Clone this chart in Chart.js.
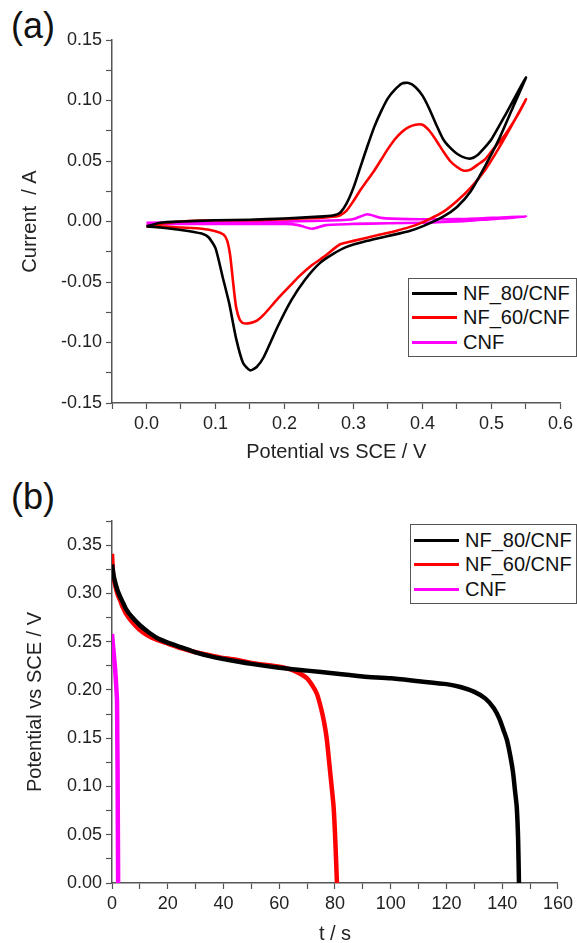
<!DOCTYPE html>
<html>
<head>
<meta charset="utf-8">
<script src="https://cdn.jsdelivr.net/npm/chart.js@4.4.1/dist/chart.umd.min.js"></script>
<style>
html, body { margin: 0; padding: 0; background: #fff; overflow: hidden; width: 577px; height: 943px; }
.panel { position: absolute; left: 0; width: 577px; }
#panelA { top: 0; height: 470px; }
#panelB { top: 470px; height: 480px; }
.tag { position: absolute; left: 11px; font: 36px "Liberation Sans", Arial, sans-serif; line-height: 36px; color: #111; }
.legend { position: absolute; border: 1px solid #555; background: #fff; box-sizing: border-box;
  font: 20px "Liberation Sans", Arial, sans-serif; color: #111; padding-left: 3px; }
.legend .row { display: flex; align-items: center; height: 24.5px; white-space: nowrap; }
.legend .swatch { width: 45px; height: 3px; margin-right: 6px; }
</style>
</head>
<body>
<div class="tag" style="top:8px">(a)</div>
<div class="tag" style="top:479px">(b)</div>
<div class="panel" id="panelA"><canvas id="cv" width="577" height="470"></canvas></div>
<div class="panel" id="panelB"><canvas id="gcd" width="577" height="480"></canvas></div>
<div class="legend" id="legA" style="left:408px; top:278px; width:169px; height:79px; padding-top:2px"></div>
<div class="legend" id="legB" style="left:410px; top:524px; width:167px; height:80px; padding-top:3px"></div>
<script>
// (a) cyclic voltammetry: [potential V, current A], forward scan then reverse scan
const cvNF80 = [
  [0.00, -0.004], [0.02, -0.001], [0.05, 0.000], [0.10, 0.001], [0.15, 0.0015], [0.20, 0.0025],
  [0.25, 0.004], [0.27, 0.005], [0.28, 0.007], [0.29, 0.015], [0.30, 0.028], [0.31, 0.045],
  [0.32, 0.062], [0.33, 0.078], [0.34, 0.091], [0.35, 0.102], [0.36, 0.109], [0.37, 0.114],
  [0.38, 0.1145], [0.39, 0.111], [0.40, 0.104], [0.41, 0.093], [0.42, 0.080], [0.43, 0.068],
  [0.44, 0.061], [0.45, 0.056], [0.46, 0.053], [0.47, 0.052], [0.48, 0.055], [0.49, 0.061],
  [0.50, 0.068], [0.52, 0.088], [0.54, 0.109], [0.55, 0.119],
  [0.53, 0.093], [0.51, 0.067], [0.49, 0.045], [0.47, 0.025], [0.45, 0.012], [0.43, 0.004],
  [0.40, -0.004], [0.38, -0.008], [0.35, -0.012], [0.32, -0.016], [0.29, -0.021], [0.27, -0.027],
  [0.25, -0.035], [0.23, -0.048], [0.21, -0.065], [0.19, -0.087], [0.17, -0.112], [0.16, -0.120],
  [0.15, -0.123], [0.14, -0.117], [0.13, -0.097], [0.12, -0.068], [0.11, -0.045], [0.10, -0.022],
  [0.09, -0.013], [0.08, -0.010], [0.05, -0.007], [0.02, -0.005], [0.00, -0.004]
];
const cvNF60 = [
  [0.00, -0.004], [0.02, -0.002], [0.05, 0.000], [0.10, 0.001], [0.15, 0.001], [0.20, 0.002],
  [0.25, 0.003], [0.27, 0.004], [0.28, 0.005], [0.29, 0.009], [0.30, 0.017], [0.31, 0.026],
  [0.32, 0.034], [0.33, 0.042], [0.34, 0.051], [0.35, 0.060], [0.36, 0.068], [0.37, 0.074],
  [0.38, 0.078], [0.39, 0.080], [0.40, 0.080], [0.41, 0.075], [0.42, 0.067], [0.43, 0.058],
  [0.44, 0.050], [0.45, 0.045], [0.46, 0.042], [0.47, 0.043], [0.48, 0.047], [0.49, 0.051],
  [0.50, 0.058], [0.52, 0.072], [0.54, 0.090], [0.55, 0.101],
  [0.53, 0.080], [0.51, 0.060], [0.49, 0.042], [0.47, 0.028], [0.45, 0.017], [0.43, 0.008],
  [0.41, 0.002], [0.39, -0.003], [0.36, -0.008], [0.33, -0.012], [0.30, -0.016], [0.28, -0.019],
  [0.26, -0.028], [0.24, -0.036], [0.22, -0.046], [0.21, -0.052], [0.19, -0.064], [0.17, -0.077],
  [0.16, -0.082], [0.15, -0.084], [0.14, -0.084], [0.135, -0.081], [0.13, -0.071], [0.127, -0.058],
  [0.124, -0.042], [0.121, -0.027], [0.117, -0.016], [0.112, -0.011], [0.10, -0.008], [0.08, -0.006],
  [0.05, -0.005], [0.02, -0.004], [0.00, -0.004]
];
const cvCNF = [
  [0.00, -0.001], [0.10, -0.0005], [0.20, 0.000], [0.28, 0.001], [0.30, 0.002], [0.32, 0.006],
  [0.34, 0.003], [0.38, 0.002], [0.45, 0.002], [0.50, 0.003], [0.55, 0.004],
  [0.50, 0.002], [0.45, 0.000], [0.40, -0.001], [0.35, -0.0015], [0.30, -0.002], [0.26, -0.003],
  [0.24, -0.006], [0.22, -0.003], [0.20, -0.002], [0.10, -0.002], [0.00, -0.002]
];

// (b) galvanostatic discharge: [time s, potential V]
const gcdNF80 = [
  [0, 0.330], [0.5, 0.320], [1, 0.313], [2, 0.303], [3, 0.296], [4, 0.290], [5, 0.284], [7, 0.276],
  [10, 0.267], [13, 0.260], [16, 0.254], [20, 0.249], [25, 0.244], [30, 0.239], [35, 0.235],
  [40, 0.232], [50, 0.227], [60, 0.223], [70, 0.220], [80, 0.217], [90, 0.214], [100, 0.212],
  [110, 0.209], [120, 0.206], [125, 0.203], [130, 0.198], [134, 0.191], [137, 0.181], [139, 0.170],
  [140.5, 0.158], [141.7, 0.148], [143, 0.130], [143.9, 0.114], [144.6, 0.095], [145.2, 0.079],
  [145.7, 0.045], [146, 0]
];
const gcdNF60 = [
  [0, 0.341], [0.4, 0.320], [1, 0.310], [2, 0.299], [3, 0.292], [4, 0.285], [5, 0.279], [7, 0.271],
  [10, 0.262], [13, 0.256], [16, 0.252], [20, 0.248], [25, 0.243], [30, 0.239], [35, 0.236],
  [40, 0.233], [45, 0.231], [50, 0.228], [55, 0.226], [60, 0.224], [63, 0.222], [66, 0.219],
  [68, 0.216], [70, 0.212], [72, 0.204], [73.5, 0.196], [75, 0.181], [76.2, 0.165], [77.1, 0.148],
  [78.3, 0.114], [79.5, 0.079], [80.1, 0.045], [80.7, 0]
];
const gcdCNF = [
  [0, 0.258], [0.4, 0.245], [0.8, 0.232], [1.1, 0.222], [1.5, 0.205], [1.8, 0.188], [1.9, 0.150],
  [2.0, 0.119], [2.1, 0.060], [2.2, 0]
];

const seriesLabels = ['NF_80/CNF', 'NF_60/CNF', 'CNF'];
const seriesColors = ['#000000', '#ff0000', '#ff00ff'];

const FONT = '"Liberation Sans", Arial, sans-serif';
const AXIS = '#555';

function pts(arr) {
  return arr.map(([x, y]) => ({ x, y }));
}

function makeSets(list, width) {
  return list.map((arr, i) => ({
    label: seriesLabels[i],
    data: pts(arr),
    borderColor: seriesColors[i],
    backgroundColor: seriesColors[i],
    borderWidth: width,
    pointRadius: 0,
    showLine: true,
    tension: 0.2,
    order: i + 1
  }));
}

function axis(opts) {
  return {
    type: 'linear',
    min: opts.min,
    max: opts.max,
    afterFit: opts.fit,
    title: {
      display: true,
      text: opts.title,
      color: '#222',
      font: { family: FONT, size: 20 },
      padding: 0
    },
    border: { display: true, color: AXIS, width: 1.5 },
    grid: { drawOnChartArea: false, drawTicks: true, tickLength: 6, color: AXIS, tickWidth: 1.2 },
    ticks: {
      stepSize: opts.step,
      maxTicksLimit: 100,
      autoSkip: false,
      maxRotation: 0,
      padding: 4,
      color: '#222',
      font: { family: FONT, size: 18 },
      callback: opts.label
    }
  };
}

function buildLegend(chart, id) {
  const box = document.getElementById(id);
  chart.data.datasets.forEach(ds => {
    const row = document.createElement('div');
    row.className = 'row';
    const sw = document.createElement('span');
    sw.className = 'swatch';
    sw.style.background = ds.borderColor;
    const tx = document.createElement('span');
    tx.textContent = ds.label;
    row.appendChild(sw);
    row.appendChild(tx);
    box.appendChild(row);
  });
}

const chartA = new Chart(document.getElementById('cv'), {
  type: 'scatter',
  data: { datasets: makeSets([cvNF80, cvNF60, cvCNF], 2.6) },
  options: {
    responsive: false,
    animation: false,
    layout: { padding: { left: 18, top: 40, right: 15, bottom: 6 } },
    plugins: { legend: { display: false }, tooltip: { enabled: false } },
    scales: {
      x: axis({
        min: -0.05, max: 0.6, step: 0.05, title: 'Potential vs SCE / V',
        fit: s => { s.height = 61; },
        label: v => Math.abs(Math.round(v * 1000)) % 100 === 0 ? v.toFixed(1) : ''
      }),
      y: axis({
        min: -0.15, max: 0.15, step: 0.025, title: 'Current  / A',
        fit: s => { s.width = 94; },
        label: v => Math.abs(Math.round(v * 1000)) % 50 === 0 ? v.toFixed(2) : ''
      })
    }
  }
});

const chartB = new Chart(document.getElementById('gcd'), {
  type: 'scatter',
  data: { datasets: makeSets([gcdNF80, gcdNF60, gcdCNF], 4.5) },
  options: {
    responsive: false,
    animation: false,
    layout: { padding: { left: 23, top: 51, right: 19, bottom: 4 } },
    plugins: { legend: { display: false }, tooltip: { enabled: false } },
    scales: {
      x: axis({
        min: 0, max: 160, step: 10, title: 't / s',
        fit: s => { s.height = 63; },
        label: v => Math.round(v) % 20 === 0 ? String(Math.round(v)) : ''
      }),
      y: axis({
        min: 0, max: 0.375, step: 0.025, title: 'Potential vs SCE / V',
        fit: s => { s.width = 89; },
        label: v => Math.abs(Math.round(v * 1000)) % 50 === 0 ? v.toFixed(2) : ''
      })
    }
  }
});

buildLegend(chartA, 'legA');
buildLegend(chartB, 'legB');
</script>
</body>
</html>
